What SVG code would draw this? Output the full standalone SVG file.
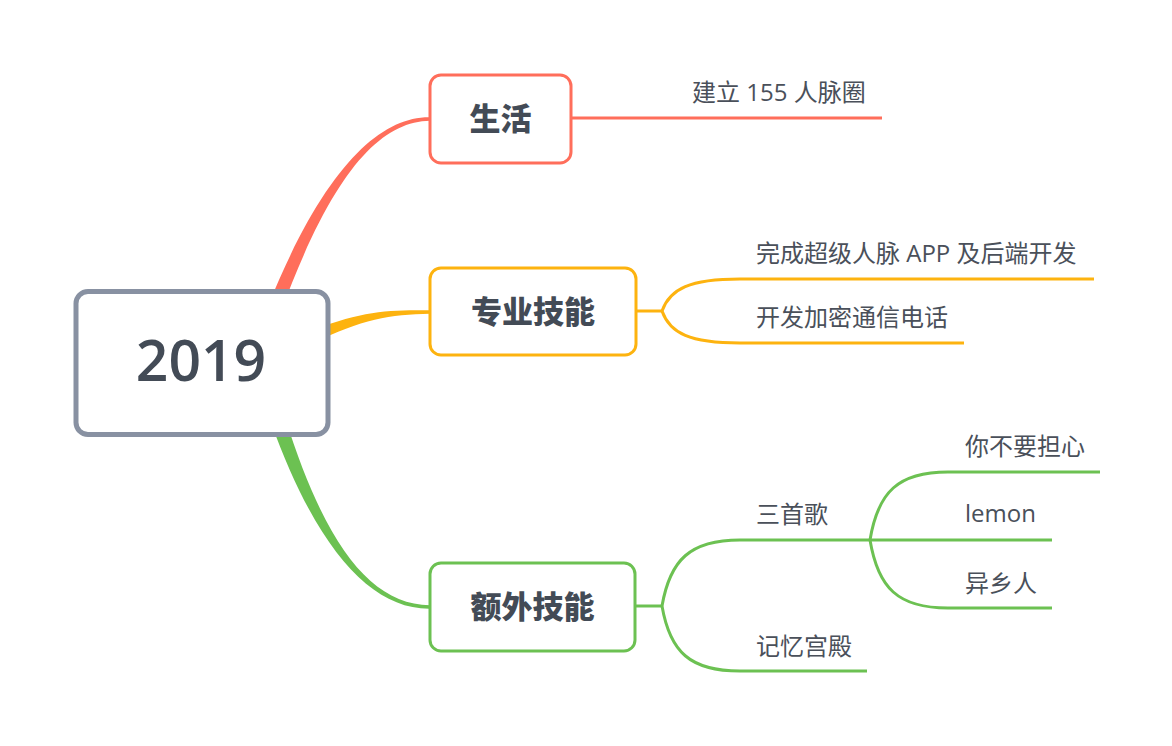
<svg xmlns="http://www.w3.org/2000/svg" width="1172" height="746" viewBox="0 0 1172 746">
<style>
.bg{fill:#ffffff}
.box{fill:#ffffff;stroke-width:3}
.red{stroke:#FF6E5B}
.yel{stroke:#FDB30F}
.grn{stroke:#6CC152}
.line{fill:none;stroke-width:3;stroke-linecap:butt}
.lbl{font-family:"Noto Sans CJK SC","Noto Sans",sans-serif;font-weight:900;font-size:31px;fill:#434B56;text-anchor:middle}
.txt{font-family:"Open Sans","Noto Sans CJK SC",sans-serif;font-size:24px;fill:#4A505A}
.root{font-family:"Open Sans","Noto Sans",sans-serif;font-weight:600;font-size:57px;fill:#434B56;text-anchor:middle}
</style>
<rect class="bg" x="0" y="0" width="1172" height="746"/>
<g id="connectors">
  <!-- main tapered branches -->
  <path d="M267.4,307.5 C323.5,168 380,116.5 430,117.3 L430,120.7 C380,121.5 332.5,172 280.6,312.5 Z" fill="#FF6E5B"/>
  <path d="M307.5,332.6 C358.1,310.9 390,309.5 430,310.3 L430,313.7 C390,314.5 361.9,319.1 312.5,343.4 Z" fill="#FDB30F"/>
  <path d="M285,417.6 C324.5,543.5 370,604.5 430,605.3 L430,608.7 C370,609.5 315.5,546.5 271,422.4 Z" fill="#6CC152"/>
  <!-- 生活 -->
  <path class="line red" d="M571,118 L882,118"/>
  <!-- 专业技能 -->
  <path class="line yel" d="M636,311 L662,311"/>
  <path class="line yel" d="M662,311 C670,288.6 690,279 740,279 L1094,279"/>
  <path class="line yel" d="M662,311 C670,333.4 690,343 740,343 L964,343"/>
  <!-- 额外技能 -->
  <path class="line grn" d="M635,606 L662,606"/>
  <path class="line grn" d="M662,606 C670,560 690,540 740,540 L870,540"/>
  <path class="line grn" d="M662,606 C670,652 690,671 740,671 L867,671"/>
  <!-- 三首歌 -->
  <path class="line grn" d="M870,540 C878,492 898,472 948,472 L1100,472"/>
  <path class="line grn" d="M870,540 L1052,540"/>
  <path class="line grn" d="M870,540 C878,588 898,608 948,608 L1052,608"/>
</g>
<g id="root">
  <rect x="76" y="291.5" width="252" height="143" rx="12" ry="12" fill="#ffffff" stroke="#8891A2" stroke-width="5"/>
  <text class="root" x="201" y="381">2019</text>
</g>
<g id="node-life">
  <rect class="box red" x="430" y="75" width="141" height="88" rx="11" ry="11"/>
  <text class="lbl" x="500.5" y="130">生活</text>
</g>
<g id="node-pro">
  <rect class="box yel" x="430" y="268" width="206" height="87" rx="11" ry="11"/>
  <text class="lbl" x="533" y="323">专业技能</text>
</g>
<g id="node-extra">
  <rect class="box grn" x="430" y="563" width="205" height="88" rx="11" ry="11"/>
  <text class="lbl" x="532.5" y="618">额外技能</text>
</g>
<g id="leaf-network"><text class="txt" x="692" y="101">建立 155 人脉圈</text></g>
<g id="leaf-app"><text class="txt" x="756" y="262">完成超级人脉 APP 及后端开发</text></g>
<g id="leaf-phone"><text class="txt" x="756" y="326">开发加密通信电话</text></g>
<g id="leaf-songs"><text class="txt" x="756" y="523">三首歌</text></g>
<g id="leaf-palace"><text class="txt" x="756" y="655">记忆宫殿</text></g>
<g id="leaf-song1"><text class="txt" x="965" y="455">你不要担心</text></g>
<g id="leaf-song2"><text class="txt" x="965" y="522">lemon</text></g>
<g id="leaf-song3"><text class="txt" x="965" y="592">异乡人</text></g>
</svg>
